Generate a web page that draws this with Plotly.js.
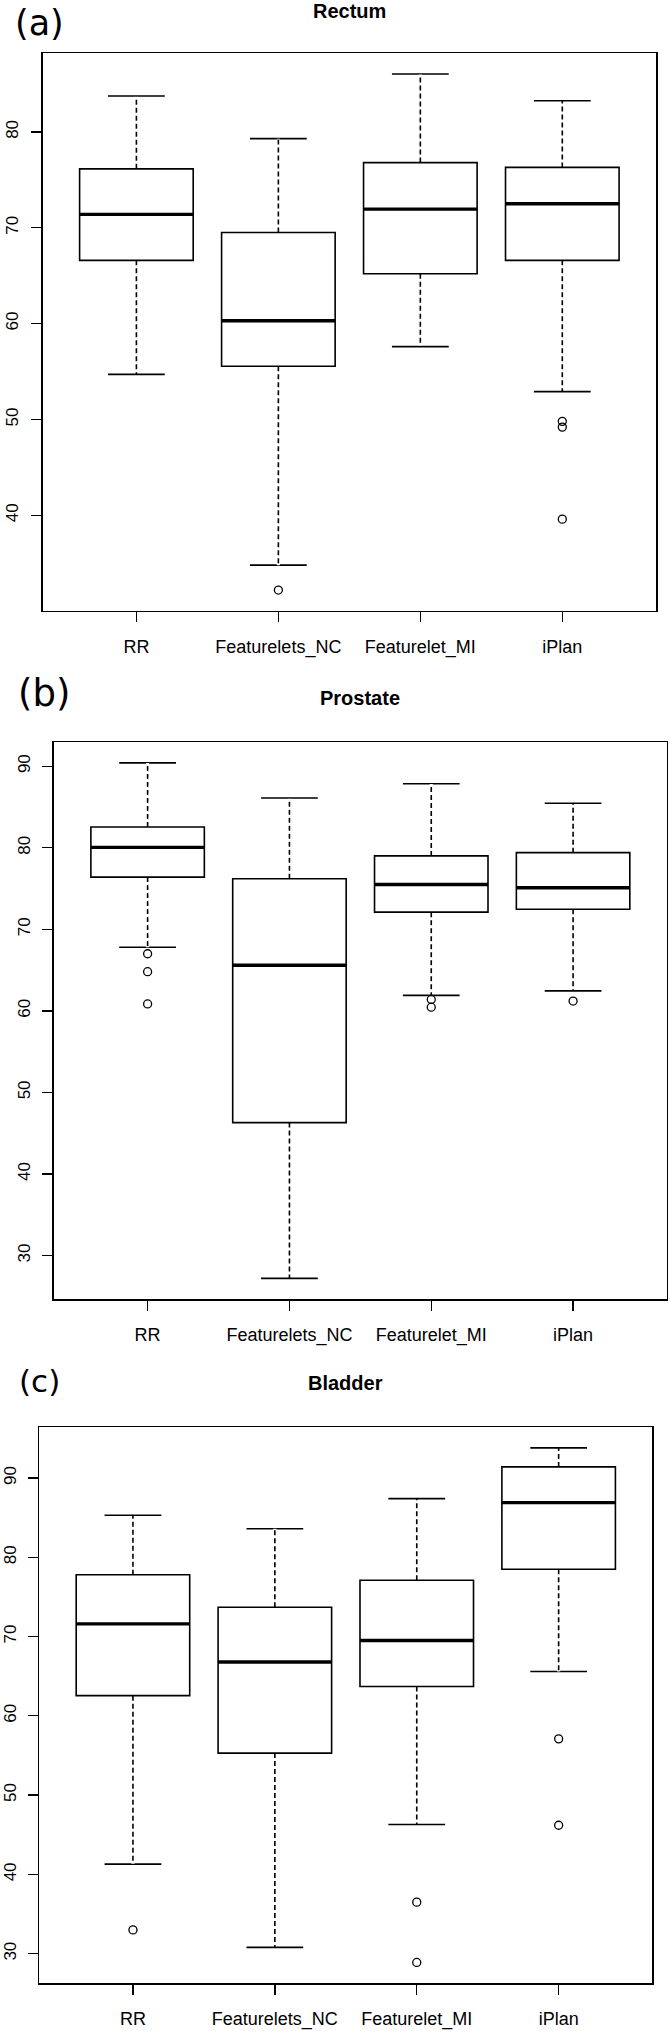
<!DOCTYPE html>
<html>
<head>
<meta charset="utf-8">
<script src="https://cdn.plot.ly/plotly-3.0.1.min.js"></script>
<style>
  html, body { margin: 0; padding: 0; background: #ffffff; }
  #chart { width: 670px; height: 2031px; }
</style>
</head>
<body>
<div id="chart"></div>
<script>
// ---------------- data ----------------
const categories = ["RR", "Featurelets_NC", "Featurelet_MI", "iPlan"];
const panelTitles = ["Rectum", "Prostate", "Bladder"];
const panelLabels = ["(a)", "(b)", "(c)"];

// Rectum
const rectumLower  = [54.7, 34.8, 57.6, 52.9];
const rectumQ1     = [66.6, 55.55, 65.2, 66.6];
const rectumMedian = [71.4, 60.3, 71.95, 72.5];
const rectumQ3     = [76.15, 69.5, 76.8, 76.3];
const rectumUpper  = [83.75, 79.3, 86.05, 83.25];
const rectumOutliers = [[], [32.2], [], [49.8, 49.2, 39.6]];

// Prostate
const prostateLower  = [67.8, 27.2, 61.9, 62.45];
const prostateQ1     = [76.4, 46.3, 72.1, 72.45];
const prostateMedian = [80.05, 65.6, 75.5, 75.1];
const prostateQ3     = [82.55, 76.2, 79.0, 79.4];
const prostateUpper  = [90.4, 86.1, 87.85, 85.45];
const prostateOutliers = [[67.0, 64.8, 60.85], [], [61.4, 60.45], [61.2]];

// Bladder
const bladderLower  = [41.3, 30.8, 46.3, 65.6];
const bladderQ1     = [62.55, 55.3, 63.7, 78.5];
const bladderMedian = [71.6, 66.8, 69.5, 86.9];
const bladderQ3     = [77.8, 73.7, 77.1, 91.4];
const bladderUpper  = [85.3, 83.6, 87.4, 93.8];
const bladderOutliers = [[33.0], [], [36.5, 28.9], [57.1, 46.2]];

// ---------------- layout constants (px on the 670x2031 page) ----------------
const W = 670, H = 2031;
const frames = [
  {x0: 42.7, x1: 656.0, y0: 53.3,   y1: 610.7,  yStand: 6, titleShift: 42, labelX: 12.5, labelYShift: 30.1, labelSize: 35},
  {x0: 54.0, x1: 666.7, y0: 742.3,  y1: 1299.0, yStand: 6, titleShift: 44, labelX: 16.3, labelYShift: 48.8, labelSize: 37},
  {x0: 39.3, x1: 652.3, y0: 1427.3, y1: 1983.0, yStand: 5, titleShift: 44, labelX: 16.8, labelYShift: 46.6, labelSize: 31}
];
const BOX_W = 0.8;
const INK = "#000000";
const FONT = "Liberation Sans, Arial, sans-serif";

const panels = [
  {lower: rectumLower, q1: rectumQ1, median: rectumMedian, q3: rectumQ3, upper: rectumUpper, out: rectumOutliers},
  {lower: prostateLower, q1: prostateQ1, median: prostateMedian, q3: prostateQ3, upper: prostateUpper, out: prostateOutliers},
  {lower: bladderLower, q1: bladderQ1, median: bladderMedian, q3: bladderQ3, upper: bladderUpper, out: bladderOutliers}
];

const positions = categories.map((c, i) => i + 1);
const traces = [];
const layout = {
  width: W, height: H,
  margin: {l: 0, r: 0, t: 0, b: 0},
  paper_bgcolor: "#ffffff",
  plot_bgcolor: "#ffffff",
  showlegend: false,
  font: {family: FONT, color: INK},
  annotations: []
};

panels.forEach((p, k) => {
  const sfx = k === 0 ? "" : String(k + 1);
  const xa = "x" + sfx, ya = "y" + sfx;
  const f = frames[k];

  // R-style limits: 4% extension of the data range
  const allVals = [].concat(p.lower, p.upper, ...p.out);
  const lo = Math.min(...allVals), hi = Math.max(...allVals);
  const pad = 0.04 * (hi - lo);
  const n = categories.length;

  layout["xaxis" + sfx] = {
    domain: [f.x0 / W, f.x1 / W],
    anchor: ya,
    range: [0.5 - 0.04 * n, n + 0.5 + 0.04 * n],
    tickmode: "array", tickvals: positions, ticktext: categories,
    ticks: "outside", ticklen: 10, tickwidth: 1.3, tickcolor: INK,
    showline: true, linecolor: INK, linewidth: 1.6, mirror: true,
    showgrid: false, zeroline: false, fixedrange: true,
    tickfont: {family: FONT, size: 18, color: INK},
    ticklabelstandoff: 9
  };
  layout["yaxis" + sfx] = {
    domain: [1 - f.y1 / H, 1 - f.y0 / H],
    anchor: xa,
    range: [lo - pad, hi + pad],
    tick0: 0, dtick: 10,
    ticks: "outside", ticklen: 10, tickwidth: 1.3, tickcolor: INK,
    showline: true, linecolor: INK, linewidth: 1.6, mirror: true,
    showgrid: false, zeroline: false, fixedrange: true,
    tickangle: -90,
    tickfont: {family: FONT, size: 17, color: INK},
    ticklabelstandoff: f.yStand
  };

  // the boxes (quartiles, median, whiskers and staples)
  traces.push({
    type: "box", xaxis: xa, yaxis: ya,
    x: positions,
    q1: p.q1, median: p.median, q3: p.q3,
    lowerfence: p.lower, upperfence: p.upper,
    width: BOX_W, whiskerwidth: 0.5,
    boxpoints: false,
    line: {color: INK, width: 1.6},
    fillcolor: "rgba(255,255,255,0)",
    hoverinfo: "skip",
    showlegend: false
  });

  // white dash overlay turns the solid whiskers into dashed ones (R lty = 2)
  const wx = [], wy = [];
  positions.forEach((xp, i) => {
    wx.push(xp, xp, null, xp, xp, null);
    wy.push(p.q3[i], p.upper[i], null, p.q1[i], p.lower[i], null);
  });
  traces.push({
    type: "scatter", mode: "lines", xaxis: xa, yaxis: ya,
    x: wx, y: wy,
    line: {color: "#ffffff", width: 3.2, dash: "0px,5px,3px,0px"},
    hoverinfo: "skip", showlegend: false
  });

  // thick median bar (R lwd = 3)
  const mx = [], my = [];
  positions.forEach((xp, i) => {
    mx.push(xp - BOX_W / 2, xp + BOX_W / 2, null);
    my.push(p.median[i], p.median[i], null);
  });
  traces.push({
    type: "scatter", mode: "lines", xaxis: xa, yaxis: ya,
    x: mx, y: my,
    line: {color: INK, width: 3.4},
    hoverinfo: "skip", showlegend: false
  });

  // outliers
  const ox = [], oy = [];
  p.out.forEach((arr, i) => arr.forEach(v => { ox.push(positions[i]); oy.push(v); }));
  traces.push({
    type: "scatter", mode: "markers", xaxis: xa, yaxis: ya,
    x: ox, y: oy,
    marker: {symbol: "circle-open", size: 8, color: INK, line: {color: INK, width: 1.3}},
    showlegend: false
  });

  // panel title (bold, centred over the plot region)
  layout.annotations.push({
    xref: xa + " domain", yref: ya + " domain",
    x: 0.5, y: 1, yshift: f.titleShift,
    xanchor: "center", yanchor: "middle",
    text: "<b>" + panelTitles[k] + "</b>",
    showarrow: false,
    font: {family: FONT, size: 20, color: INK}
  });
  // panel letter
  layout.annotations.push({
    xref: "paper", yref: ya + " domain",
    x: f.labelX / W, y: 1, yshift: f.labelYShift,
    xanchor: "left", yanchor: "middle",
    text: panelLabels[k],
    showarrow: false,
    font: {family: "DejaVu Sans, sans-serif", size: f.labelSize, color: INK}
  });
});

Plotly.newPlot("chart", traces, layout, {staticPlot: true, displayModeBar: false});
</script>
</body>
</html>
